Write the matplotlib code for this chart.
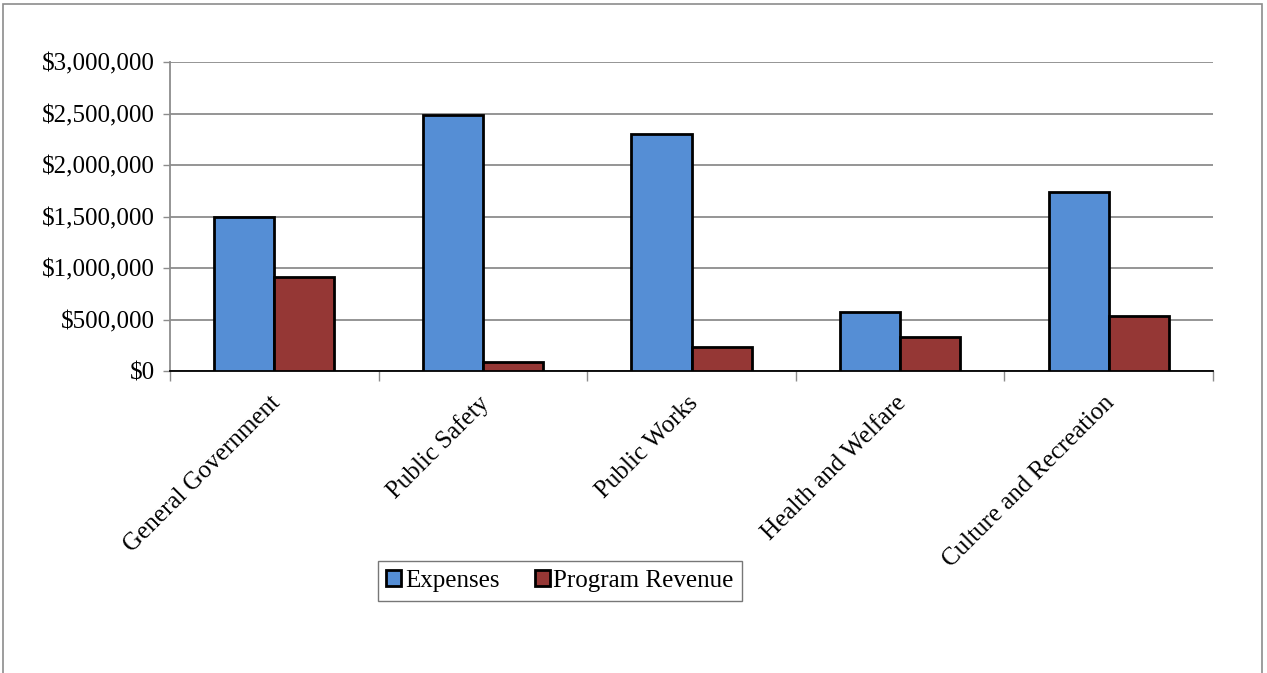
import matplotlib.pyplot as plt
import matplotlib.transforms as mtransforms
from matplotlib.patches import Rectangle
from matplotlib.ticker import FuncFormatter
import numpy as np

categories = ['General Government', 'Public Safety', 'Public Works',
              'Health and Welfare', 'Culture and Recreation']
expenses = [1495000, 2485000, 2305000, 570000, 1740000]
program_revenue = [915000, 85000, 230000, 333000, 537000]

plt.rcParams['font.family'] = ['Liberation Serif', 'DejaVu Serif']

fig = plt.figure(figsize=(12.67, 6.73), dpi=100)
ax = fig.add_axes([170 / 1267, 1 - 371 / 673, (1213 - 170) / 1267, (371 - 62) / 673])

# outer chart frame
fig.patches.append(Rectangle((3 / 1267, -0.05), 1259 / 1267, 1.05 - 4 / 673,
                             transform=fig.transFigure, fill=False,
                             edgecolor='#8c8c8c', linewidth=1.2))

x = np.arange(len(categories))
w = 0.288
ax.bar(x - w / 2, expenses, w, color='#558ed5', edgecolor='black',
       linewidth=2, label='Expenses', zorder=3)
ax.bar(x + w / 2, program_revenue, w, color='#953735', edgecolor='black',
       linewidth=2, label='Program Revenue', zorder=3)

ax.set_xlim(-0.5, len(categories) - 0.5)
ax.set_ylim(0, 3000000)
ax.set_yticks(np.arange(0, 3000001, 500000))
ax.yaxis.set_major_formatter(FuncFormatter(lambda v, p: f'${v:,.0f}'))
ax.yaxis.grid(True, color='#8c8c8c', linewidth=1.3, zorder=0)

ax.set_xticks(np.arange(-0.5, len(categories), 1.0))
ax.set_xticklabels([])
ax.set_xticks(x, minor=True)
ax.set_xticklabels(categories, minor=True, rotation=45, ha='right', va='top',
                   rotation_mode='anchor', fontsize=18)
ax.tick_params(axis='x', which='minor', length=0, pad=15)
ax.tick_params(axis='x', which='major', length=7, width=1, color='#8c8c8c')
ax.tick_params(axis='y', length=5, width=1, color='#8c8c8c', labelsize=18, pad=6)

# nudge category labels a little to the left
shift = mtransforms.ScaledTranslation(-5 / 100, 0, fig.dpi_scale_trans)
for lbl in ax.get_xticklabels(minor=True):
    lbl.set_transform(lbl.get_transform() + shift)

for s in ['top', 'right']:
    ax.spines[s].set_visible(False)
ax.spines['left'].set_color('#8c8c8c')
ax.spines['left'].set_linewidth(1.3)
ax.spines['bottom'].set_color('black')
ax.spines['bottom'].set_linewidth(1.3)

leg = fig.legend(loc='center', bbox_to_anchor=(560 / 1267, 1 - 581 / 673),
                 ncol=2, fontsize=18, frameon=True, fancybox=False,
                 edgecolor='#555555', handlelength=0.6, handleheight=0.6,
                 handletextpad=0.15, columnspacing=1.4, borderpad=0.35,
                 borderaxespad=0)
leg.get_frame().set_linewidth(1.0)
for h in leg.legend_handles:
    h.set_linewidth(2)

fig.savefig('out.png', dpi=100)
